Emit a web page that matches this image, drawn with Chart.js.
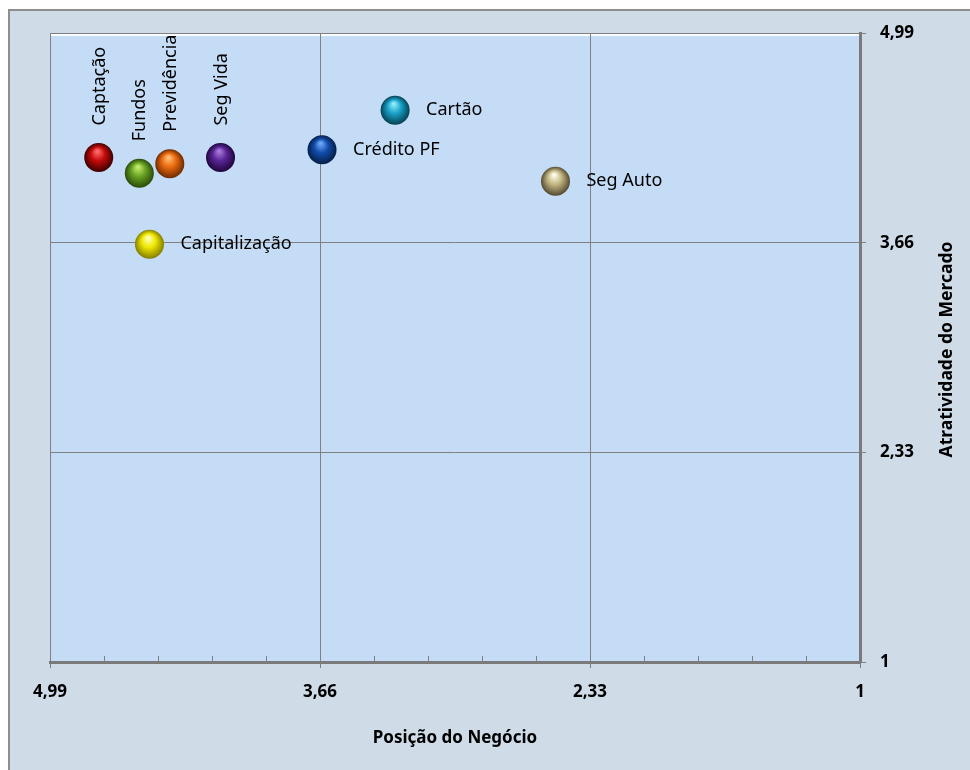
<!DOCTYPE html>
<html>
<head>
<meta charset="utf-8">
<script src="https://cdn.jsdelivr.net/npm/chart.js@4"></script>
<style>
  html, body { margin: 0; padding: 0; background: #fff; }
</style>
</head>
<body>
<canvas id="matrixChart" width="970" height="770"></canvas>
<script>
// products and their scores
const products = ['Captação', 'Fundos', 'Previdência', 'Seg Vida', 'Crédito PF', 'Cartão', 'Seg Auto', 'Capitalização'];
const businessPosition = [4.75, 4.55, 4.40, 4.15, 3.65, 3.29, 2.50, 4.50];
const marketAttractiveness = [4.20, 4.10, 4.16, 4.20, 4.25, 4.50, 4.05, 3.65];

// axis ticks
const axisTicks = [1, 2.33, 3.66, 4.99];
const axisTickLabels = ['1', '2,33', '3,66', '4,99'];

// labels written upwards above the ball
const verticalLabels = ['Captação', 'Fundos', 'Previdência', 'Seg Vida'];

// ball shading: highlight, body, rim
const ballColors = [
    ['#ff6a6a', '#c40a0a', '#3e0000'],
    ['#c4ea6a', '#68a224', '#2a4a0a'],
    ['#ffbc70', '#ea6a10', '#6e2a00'],
    ['#a878d8', '#5a2494', '#1e063c'],
    ['#6aa6f4', '#104cab', '#051e46'],
    ['#8aecff', '#18a0c6', '#064052'],
    ['#fffbe6', '#c2b684', '#544a30'],
    ['#ffffb0', '#eee600', '#847e00']
];

const gridGray = '#808080';
const labelFont = '"Noto Sans", "Open Sans", sans-serif';

function ballFill(ctx) {
    if (ctx.type !== 'data') return ballColors[0][1];
    const chart = ctx.chart;
    const i = ctx.dataIndex;
    const x = chart.scales.x.getPixelForValue(businessPosition[i]);
    const y = chart.scales.y.getPixelForValue(marketAttractiveness[i]);
    // scales are not laid out yet on the first reset pass
    if (!isFinite(x) || !isFinite(y)) return ballColors[i][1];
    const r = 14.5;
    const g = chart.ctx.createRadialGradient(x - r * 0.1, y - r * 0.45, 1, x, y, r);
    g.addColorStop(0, ballColors[i][0]);
    g.addColorStop(0.45, ballColors[i][1]);
    g.addColorStop(1, ballColors[i][2]);
    return g;
}

function tickText(value) {
    const k = axisTicks.indexOf(value);
    return k >= 0 ? axisTickLabels[k] : '';
}

// outer panel and the plot background
const panel = {
    id: 'panel',
    beforeDraw(chart) {
        const c = chart.ctx, a = chart.chartArea;
        c.save();
        c.fillStyle = '#ffffff';
        c.fillRect(0, 0, chart.width, chart.height);
        c.fillStyle = '#cfdce8';
        c.fillRect(8, 9, chart.width - 8, chart.height - 9);
        c.strokeStyle = '#8e8e8e';
        c.lineWidth = 2;
        c.beginPath();
        c.moveTo(9, chart.height);
        c.lineTo(9, 10);
        c.lineTo(chart.width, 10);
        c.stroke();

        c.fillStyle = '#c4dcf6';
        c.fillRect(a.left, a.top, a.width, a.height);
        c.fillStyle = 'rgba(255,255,255,0.9)';
        c.fillRect(a.left + 1, a.top + 1, a.width - 2, 2);
        c.strokeStyle = gridGray;
        c.lineWidth = 1;
        c.strokeRect(a.left + 0.5, a.top + 0.5, a.width, a.height);
        c.restore();
    },
    afterDraw(chart) {
        const c = chart.ctx, a = chart.chartArea, xs = chart.scales.x;
        c.save();
        // minor ticks on the bottom axis
        c.strokeStyle = gridGray;
        c.lineWidth = 1;
        c.beginPath();
        for (let k = 0; k < axisTicks.length - 1; k++) {
            const step = (axisTicks[k + 1] - axisTicks[k]) / 5;
            for (let m = 1; m < 5; m++) {
                const px = Math.round(xs.getPixelForValue(axisTicks[k] + step * m)) + 0.5;
                c.moveTo(px, a.bottom - 6);
                c.lineTo(px, a.bottom);
            }
        }
        c.stroke();
        // right axis title, reading upwards
        c.fillStyle = '#000';
        c.font = 'bold 17.5px ' + labelFont;
        c.textAlign = 'center';
        c.textBaseline = 'middle';
        c.translate(947, (a.top + a.bottom) / 2 + 2);
        c.rotate(-Math.PI / 2);
        c.fillText('Atratividade do Mercado', 0, 0);
        c.restore();
    }
};

// product names next to each ball
const pointLabels = {
    id: 'pointLabels',
    afterDatasetsDraw(chart) {
        const c = chart.ctx;
        const pts = chart.getDatasetMeta(0).data;
        c.save();
        c.font = '18px ' + labelFont;
        c.fillStyle = '#000';
        c.textBaseline = 'middle';
        c.textAlign = 'left';
        pts.forEach((p, i) => {
            if (verticalLabels.includes(products[i])) {
                c.save();
                c.translate(p.x + 1, p.y - 32);
                c.rotate(-Math.PI / 2);
                c.fillText(products[i], 0, 0);
                c.restore();
            } else {
                c.fillText(products[i], p.x + 31, p.y);
            }
        });
        c.restore();
    }
};

new Chart(document.getElementById('matrixChart'), {
    type: 'scatter',
    data: {
        datasets: [{
            label: 'Produtos',
            data: products.map((p, i) => ({ x: businessPosition[i], y: marketAttractiveness[i] })),
            pointRadius: 14.5,
            pointBorderWidth: 0,
            backgroundColor: ballFill,
            borderColor: 'rgba(0,0,0,0)'
        }]
    },
    plugins: [panel, pointLabels],
    options: {
        responsive: false,
        animation: false,
        events: [],
        layout: { padding: { left: 50, top: 33, right: 0, bottom: 0 } },
        plugins: {
            legend: { display: false },
            tooltip: { enabled: false }
        },
        scales: {
            x: {
                type: 'linear',
                position: 'bottom',
                min: 1,
                max: 4.99,
                reverse: true,
                afterBuildTicks: s => { s.ticks = axisTicks.map(v => ({ value: v })); },
                afterFit: s => { s.height = 108; },
                grid: { color: gridGray, lineWidth: 1, tickLength: 6, tickColor: gridGray },
                border: { color: '#7a7a7a', width: 3 },
                ticks: {
                    callback: tickText,
                    padding: 14,
                    maxRotation: 0,
                    autoSkip: false,
                    color: '#000',
                    font: { family: labelFont, size: 17, weight: 'bold' }
                },
                title: {
                    display: true,
                    text: 'Posição do Negócio',
                    color: '#000',
                    font: { family: labelFont, size: 17, weight: 'bold' },
                    padding: { top: 0, bottom: 22 }
                }
            },
            y: {
                type: 'linear',
                position: 'right',
                min: 1,
                max: 4.99,
                afterBuildTicks: s => { s.ticks = axisTicks.map(v => ({ value: v })); },
                afterFit: s => { s.width = 110; },
                grid: { color: gridGray, lineWidth: 1, tickLength: 6, tickColor: gridGray },
                border: { color: '#7a7a7a', width: 3 },
                ticks: {
                    callback: tickText,
                    padding: 14,
                    autoSkip: false,
                    color: '#000',
                    font: { family: labelFont, size: 17, weight: 'bold' }
                }
            }
        }
    }
});
</script>
</body>
</html>
